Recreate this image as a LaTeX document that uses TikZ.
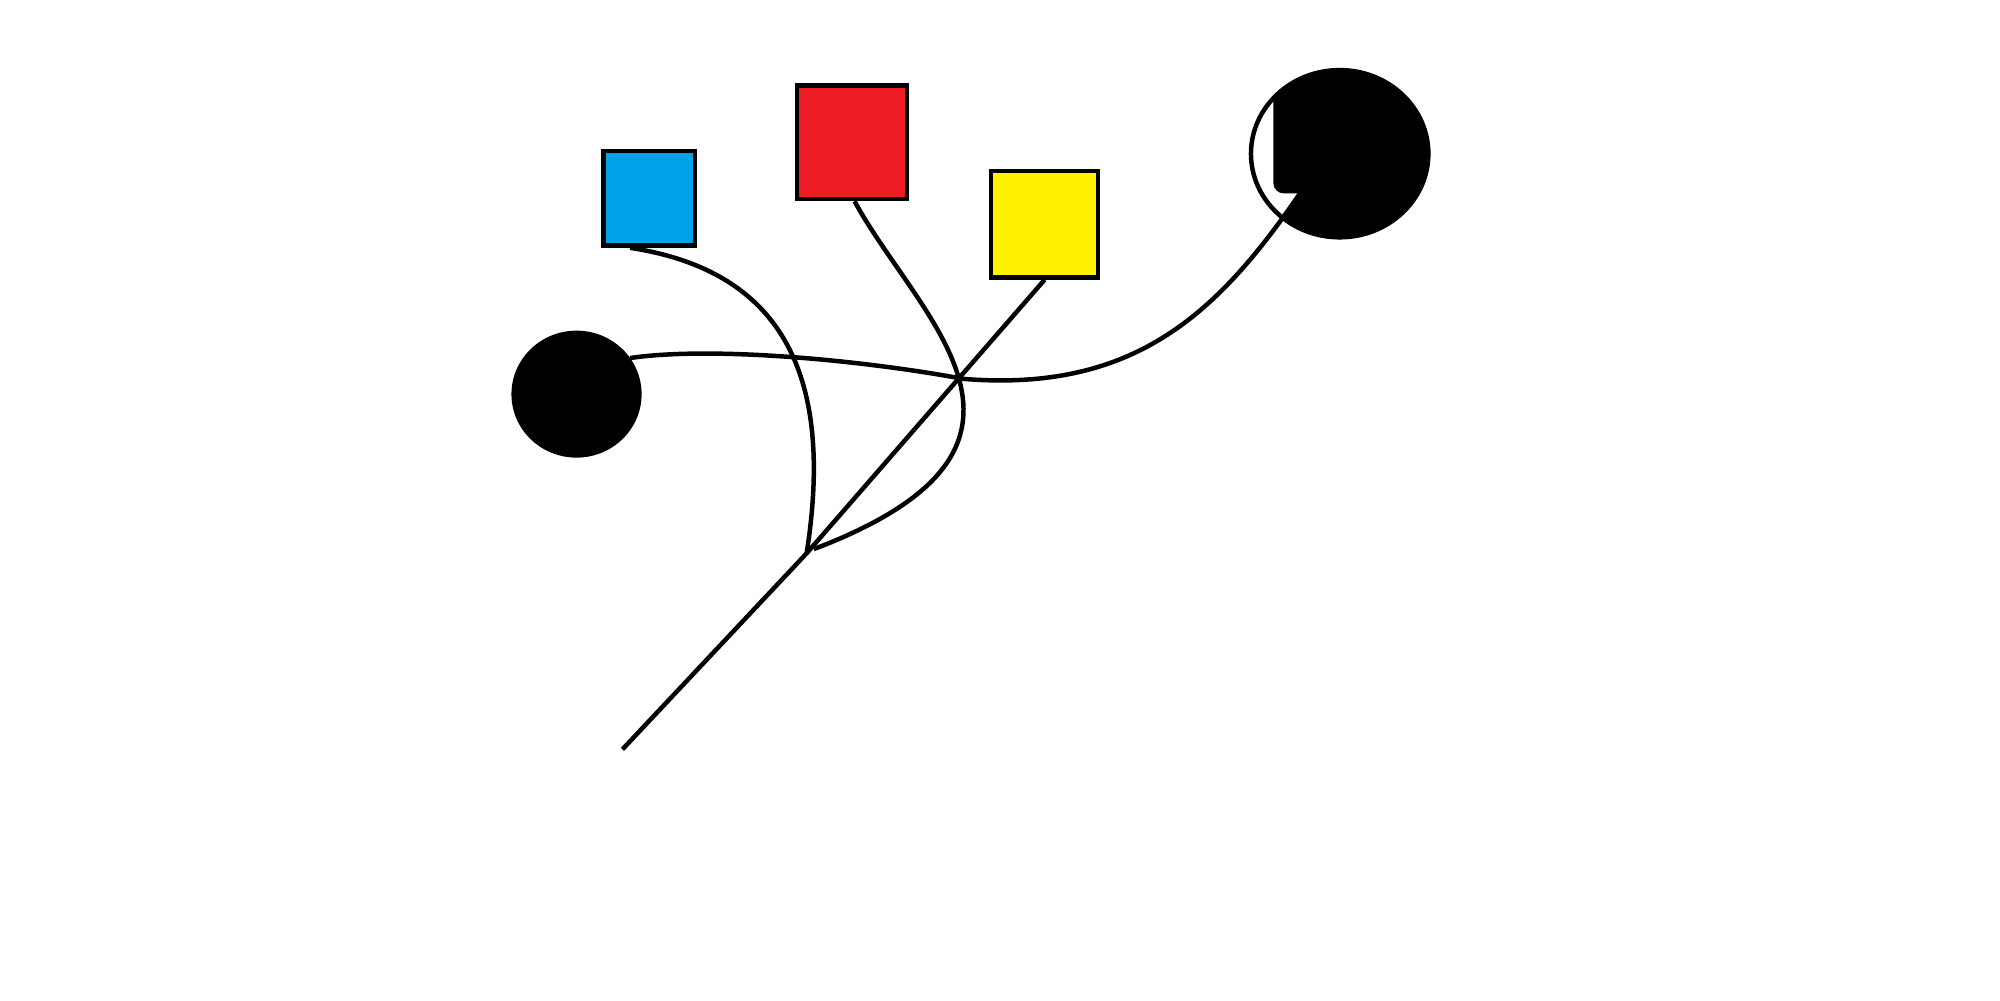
\documentclass[tikz,border=0pt]{standalone}
\usetikzlibrary{shapes.geometric}
\definecolor{pblue}{HTML}{00A2E8}
\definecolor{pred}{HTML}{ED1C24}
\definecolor{pyellow}{HTML}{FFF200}
\tikzset{
  box/.style={draw=black, rectangle, line width=1pt, inner sep=0pt},
  blob/.style={ellipse, fill=black, inner sep=0pt, outer sep=0pt},
  wire/.style={draw=black, line width=1pt}
}
\begin{document}
\begin{tikzpicture}[x=0.01cm, y=-0.01cm]
\useasboundingbox[fill=white] (0,0) rectangle (1568,784);
% boxes
\node[box, fill=pblue, minimum width=0.72cm, minimum height=0.74cm] (blue) at (509,155.5) {};
\node[box, fill=pred, minimum width=0.86cm, minimum height=0.89cm] (red) at (668,111.5) {};
\node[box, fill=pyellow, minimum width=0.84cm, minimum height=0.835cm] (yellow) at (819,175.75) {};
% left black circle
\node[blob, minimum width=1.02cm, minimum height=0.995cm] (lc) at (452,309) {};
% right circle: fill part
\coordinate (rcend) at (1019.2,151.6);
\begin{scope}
\clip (1050.3,120.5) ellipse [x radius=0.708cm, y radius=0.669cm];
\fill[black] (998.3,30) -- (998.3,143.6) .. controls (998.3,148) and (1002,151.6) .. (1006.3,151.6)
  -- (rcend) -- (985,200.3) -- (1140,215) -- (1140,30) -- cycle;
\end{scope}
\node[ellipse, draw=black, line width=1pt, inner sep=0pt, minimum width=1.39cm, minimum height=1.31cm] (rc) at (1050.3,120.5) {};
% junctions
\coordinate (j) at (632.4,433.8);
\coordinate (jr) at (638,430.5);
\coordinate (x) at (755,297);
\coordinate (tail) at (488,587.5);
% connectors
\draw[wire] (lc.34) .. controls (560,271) and (680,283) .. (x)
  .. controls (890,308) and (955,245) .. (rcend);
\draw[wire] ([xshift=-0.15cm]blue.south) .. controls (610,212) and (655,290) .. (j);
\draw[wire] ([xshift=0.02cm]red.south) .. controls (720,250) and (850,350) .. (jr);
\draw[wire] (yellow.south) -- (j) -- (tail);
\end{tikzpicture}
\end{document}
